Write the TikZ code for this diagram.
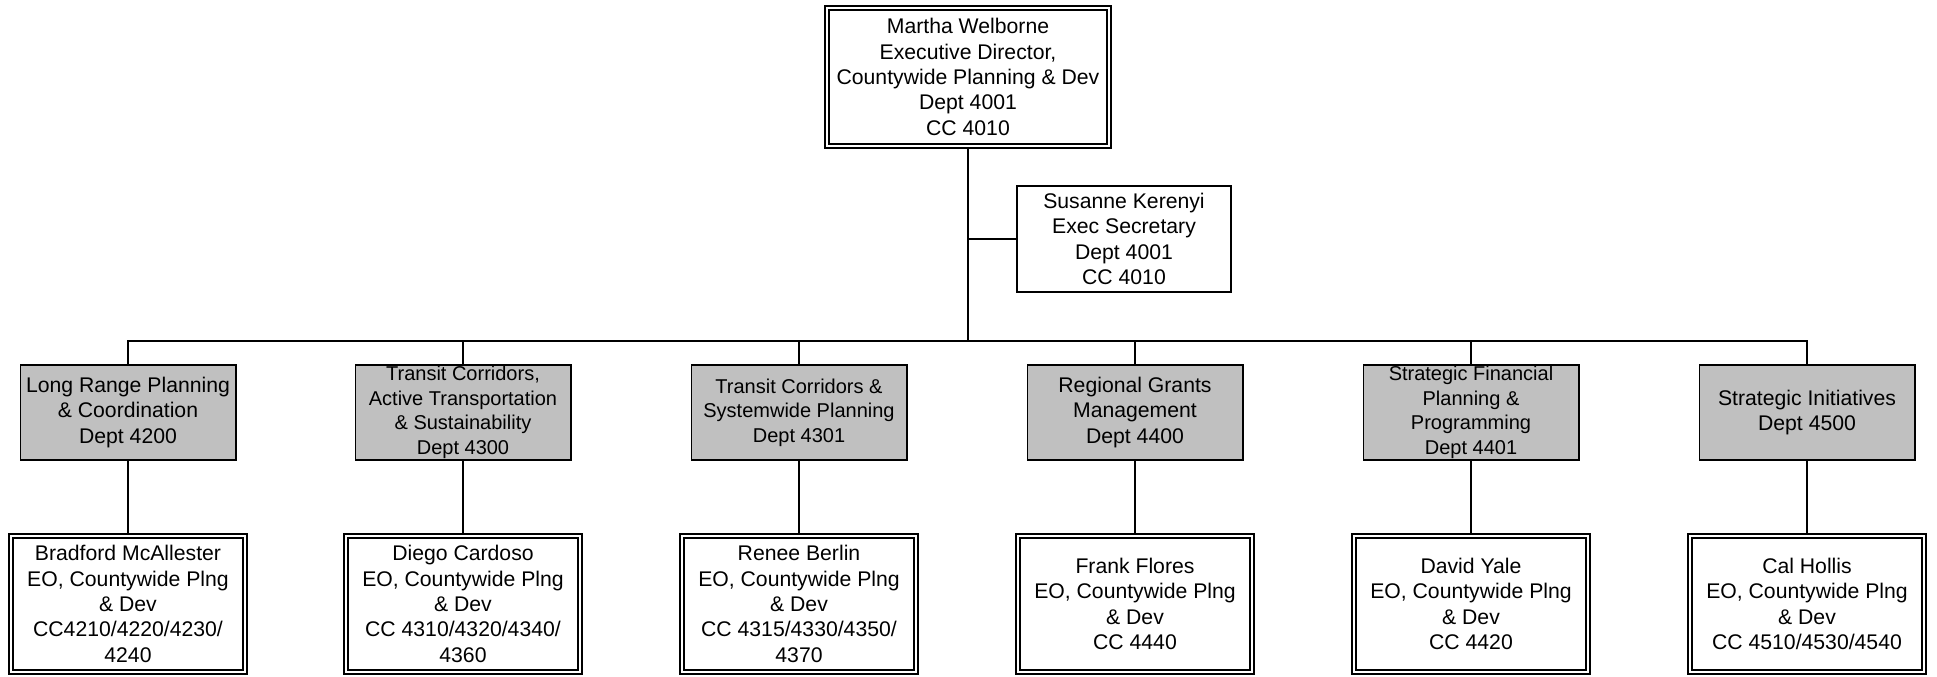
\documentclass[tikz,border=0pt]{standalone}
\usepackage{fontspec}
\setmainfont{Liberation Sans}
\usetikzlibrary{positioning}
\definecolor{deptgray}{HTML}{C0C0C0}
\begin{document}
\begin{tikzpicture}[
                x=0.5pt, y=-0.5pt,
                every node/.style={align=center, font=\fontsize{10.6}{12.7}\selectfont},
                dirbox/.style={draw, line width=0.9pt, double, double distance=1.1pt, outer sep=1.45pt,
                        minimum width=141.1pt, minimum height=69.1pt},
                secbox/.style={draw, line width=0.9pt, minimum width=107.1pt, minimum height=53.1pt},
                deptbox/.style={draw, line width=0.9pt, fill=deptgray, inner sep=0pt,
                        minimum width=107.6pt, minimum height=47.6pt},
                tightdept/.style={deptbox, font=\fontsize{10}{12.3}\selectfont},
                eobox/.style={draw, line width=0.9pt, double, double distance=1.1pt, outer sep=1.45pt,
                        minimum width=117.1pt, minimum height=68.1pt},
                link/.style={line width=0.9pt}
            ]
            \useasboundingbox (0,0) rectangle (1937,676);

            % director and secretary
            \node[dirbox] (top) at (968,77) {Martha Welborne\\Executive Director,\\Countywide Planning \& Dev\\Dept 4001\\CC 4010};
            \node[secbox] (sec) at (1124,239) {Susanne Kerenyi\\Exec Secretary\\Dept 4001\\CC 4010};

            % departments
            \node[deptbox] (d4200) at (128,412.5) {Long Range Planning\\\& Coordination\\Dept 4200};
            \node[tightdept] (d4300) at (463,412.5) {Transit Corridors,\\Active Transportation\\\& Sustainability\\Dept 4300};
            \node[tightdept] (d4301) at (799,412.5) {Transit Corridors \&\\Systemwide Planning\\Dept 4301};
            \node[deptbox] (d4400) at (1135,412.5) {Regional Grants\\Management\\Dept 4400};
            \node[tightdept] (d4401) at (1471,412.5) {Strategic Financial\\Planning \&\\Programming\\Dept 4401};
            \node[deptbox] (d4500) at (1807,412.5) {Strategic Initiatives\\Dept 4500};

            % executive officers
            \node[eobox] (eo4200) at (128,604) {Bradford McAllester\\EO, Countywide Plng\\\& Dev\\CC4210/4220/4230/\\4240};
            \node[eobox] (eo4300) at (463,604) {Diego Cardoso\\EO, Countywide Plng\\\& Dev\\CC 4310/4320/4340/\\4360};
            \node[eobox] (eo4301) at (799,604) {Renee Berlin\\EO, Countywide Plng\\\& Dev\\CC 4315/4330/4350/\\4370};
            \node[eobox] (eo4400) at (1135,604) {Frank Flores\\EO, Countywide Plng\\\& Dev\\CC 4440};
            \node[eobox] (eo4401) at (1471,604) {David Yale\\EO, Countywide Plng\\\& Dev\\CC 4420};
            \node[eobox] (eo4500) at (1807,604) {Cal Hollis\\EO, Countywide Plng\\\& Dev\\CC 4510/4530/4540};

            % connectors
            \coordinate (bus) at (968,341);
            \draw[link] (top.south) -- (bus);
            \draw[link] (sec.west) -- (sec.west -| top.south);
            \draw[link] (d4200.north) |- (bus) -| (d4500.north);
            \draw[link] (d4300.north) -- (d4300.north |- bus);
            \draw[link] (d4301.north) -- (d4301.north |- bus);
            \draw[link] (d4400.north) -- (d4400.north |- bus);
            \draw[link] (d4401.north) -- (d4401.north |- bus);
            \draw[link] (d4200.south) -- (eo4200.north);
            \draw[link] (d4300.south) -- (eo4300.north);
            \draw[link] (d4301.south) -- (eo4301.north);
            \draw[link] (d4400.south) -- (eo4400.north);
            \draw[link] (d4401.south) -- (eo4401.north);
            \draw[link] (d4500.south) -- (eo4500.north);

        \end{tikzpicture}
\end{document}
